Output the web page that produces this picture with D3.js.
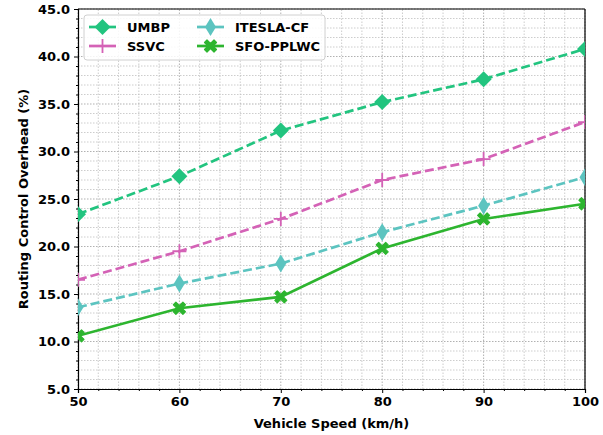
<!DOCTYPE html>
<html>
<head>
<meta charset="utf-8">
<script src="https://cdn.jsdelivr.net/npm/d3@7"></script>
<style>
  body { margin: 0; background: #fff; }
  svg { display: block; font-family: "DejaVu Sans", sans-serif; }
</style>
</head>
<body>
<div id="chart"></div>
<script>
// Chart data.
const speeds = [50, 60, 70, 80, 90, 100];
const umbp = [23.4, 27.4, 32.2, 35.2, 37.6, 40.8];
const ssvc = [16.5, 19.5, 22.9, 27.0, 29.2, 33.1];
const itesla = [13.6, 16.1, 18.2, 21.5, 24.3, 27.3];
const sfo = [10.6, 13.5, 14.7, 19.8, 22.9, 24.5];
const xTicks = [50, 60, 70, 80, 90, 100];
const yTicks = [5, 10, 15, 20, 25, 30, 35, 40, 45];

const series = [
  { name: "UMBP", values: umbp, color: "#22c47f", dash: "9,4", marker: "D" },
  { name: "SSVC", values: ssvc, color: "#d462b6", dash: "9,4", marker: "+" },
  { name: "ITESLA-CF", values: itesla, color: "#5cc4c0", dash: "9,4", marker: "d" },
  { name: "SFO-PPLWC", values: sfo, color: "#2db52f", dash: null, marker: "X" }
];

const width = 603, height = 435;
const margin = { top: 9, right: 18, bottom: 46, left: 78 };

const svg = d3.select("#chart").append("svg")
  .attr("width", width)
  .attr("height", height);

const x = d3.scaleLinear().domain([50, 100]).range([margin.left, width - margin.right]);
const y = d3.scaleLinear().domain([5, 45]).range([height - margin.bottom, margin.top]);

// Grid (minor + major, dotted).
const grid = svg.append("g");
grid.selectAll("line.vx")
  .data(d3.range(50, 100.1, 2))
  .join("line")
    .attr("x1", d => x(d)).attr("x2", d => x(d))
    .attr("y1", y(5)).attr("y2", y(45))
    .attr("stroke", d => d % 10 === 0 ? "#a8a8a8" : "#c0c0c0")
    .attr("stroke-width", d => d % 10 === 0 ? 0.9 : 0.8)
    .attr("stroke-dasharray", "1.5,1.5");
grid.selectAll("line.hy")
  .data(d3.range(5, 45.1, 1))
  .join("line")
    .attr("y1", d => y(d)).attr("y2", d => y(d))
    .attr("x1", x(50)).attr("x2", x(100))
    .attr("stroke", d => d % 5 === 0 ? "#a8a8a8" : "#c0c0c0")
    .attr("stroke-width", d => d % 5 === 0 ? 0.9 : 0.8)
    .attr("stroke-dasharray", "1.5,1.5");

// Axes with major + minor ticks.
svg.append("g")
  .attr("transform", `translate(0,${y(5)})`)
  .call(d3.axisBottom(x).tickValues(xTicks).tickSize(4).tickPadding(4).tickFormat(d3.format("d")));
svg.append("g")
  .attr("transform", `translate(0,${y(5)})`)
  .call(d3.axisBottom(x).tickValues(d3.range(50, 100.1, 2).filter(d => d % 10 !== 0)).tickSize(2).tickFormat(""))
  .call(g => g.select(".domain").remove());

svg.append("g")
  .attr("transform", `translate(${x(50)},0)`)
  .call(d3.axisLeft(y).tickValues(yTicks).tickSize(4).tickPadding(4).tickFormat(d3.format(".1f")));
svg.append("g")
  .attr("transform", `translate(${x(50)},0)`)
  .call(d3.axisLeft(y).tickValues(d3.range(5, 45.1, 1).filter(d => d % 5 !== 0)).tickSize(2).tickFormat(""))
  .call(g => g.select(".domain").remove());

svg.selectAll(".tick text")
  .attr("font-family", "DejaVu Sans")
  .attr("font-size", 13)
  .attr("font-weight", "bold")
  .attr("fill", "#000");
svg.selectAll(".domain").attr("stroke", "#000").attr("stroke-width", 1.2);
svg.selectAll(".tick line").attr("stroke", "#000");

// Top and right spines.
svg.append("line")
  .attr("x1", x(50)).attr("x2", x(100)).attr("y1", y(45)).attr("y2", y(45))
  .attr("stroke", "#000").attr("stroke-width", 1.2);
svg.append("line")
  .attr("x1", x(100)).attr("x2", x(100)).attr("y1", y(45)).attr("y2", y(5))
  .attr("stroke", "#000").attr("stroke-width", 1.2);

// Axis labels.
svg.append("text")
  .attr("x", (x(50) + x(100)) / 2)
  .attr("y", 428)
  .attr("text-anchor", "middle")
  .attr("font-size", 13)
  .attr("font-weight", "bold")
  .text("Vehicle Speed (km/h)");
svg.append("text")
  .attr("transform", `translate(28,${(y(5) + y(45)) / 2}) rotate(-90)`)
  .attr("text-anchor", "middle")
  .attr("font-size", 13)
  .attr("font-weight", "bold")
  .text("Routing Control Overhead (%)");

// Marker drawing.
function drawMarker(g, type, color) {
  if (type === "D") {
    g.append("path").attr("d", "M0,-8L8,0L0,8L-8,0Z").attr("fill", color);
  } else if (type === "d") {
    g.append("path").attr("d", "M0,-9L5.5,0L0,9L-5.5,0Z").attr("fill", color);
  } else if (type === "+") {
    g.append("path").attr("d", "M-7,0H7M0,-7V7").attr("stroke", color).attr("stroke-width", 1.8);
  } else if (type === "X") {
    g.append("path")
      .attr("d", "M-6,-3.5L-3.5,-6L0,-2.5L3.5,-6L6,-3.5L2.5,0L6,3.5L3.5,6L0,2.5L-3.5,6L-6,3.5L-2.5,0Z")
      .attr("fill", color).attr("stroke", color).attr("stroke-width", 1.2).attr("stroke-linejoin", "round");
  }
}

// Plot clip so markers at edges are cut like the reference.
svg.append("clipPath").attr("id", "plot-clip")
  .append("rect")
  .attr("x", x(50)).attr("y", y(45))
  .attr("width", x(100) - x(50)).attr("height", y(5) - y(45));

const plot = svg.append("g").attr("clip-path", "url(#plot-clip)");
const line = d3.line()
  .x((d, i) => x(speeds[i]))
  .y(d => y(d));

series.forEach(s => {
  plot.append("path")
    .datum(s.values)
    .attr("fill", "none")
    .attr("stroke", s.color)
    .attr("stroke-width", 2.7)
    .attr("stroke-dasharray", s.dash)
    .attr("d", line);
  s.values.forEach((v, i) => {
    const g = plot.append("g").attr("transform", `translate(${x(speeds[i])},${y(v)})`);
    drawMarker(g, s.marker, s.color);
  });
});

// Legend (two columns).
const legend = svg.append("g").attr("transform", "translate(84,15)");
legend.append("rect")
  .attr("width", 241).attr("height", 45).attr("rx", 3)
  .attr("fill", "rgba(255,255,255,0.85)")
  .attr("stroke", "#d0d0d0");
const legendPos = [
  { dx: 5, dy: 12 },
  { dx: 5, dy: 31 },
  { dx: 113, dy: 12 },
  { dx: 113, dy: 31 }
];
series.forEach((s, i) => {
  const p = legendPos[i];
  const g = legend.append("g").attr("transform", `translate(${p.dx},${p.dy})`);
  g.append("line")
    .attr("x1", 0).attr("x2", 27)
    .attr("stroke", s.color).attr("stroke-width", 2.7);
  const m = g.append("g").attr("transform", "translate(13.5,0)");
  drawMarker(m, s.marker, s.color);
  g.append("text")
    .attr("x", 38).attr("y", 5)
    .attr("font-size", 13).attr("font-weight", "bold")
    .text(s.name);
});
</script>
</body>
</html>
